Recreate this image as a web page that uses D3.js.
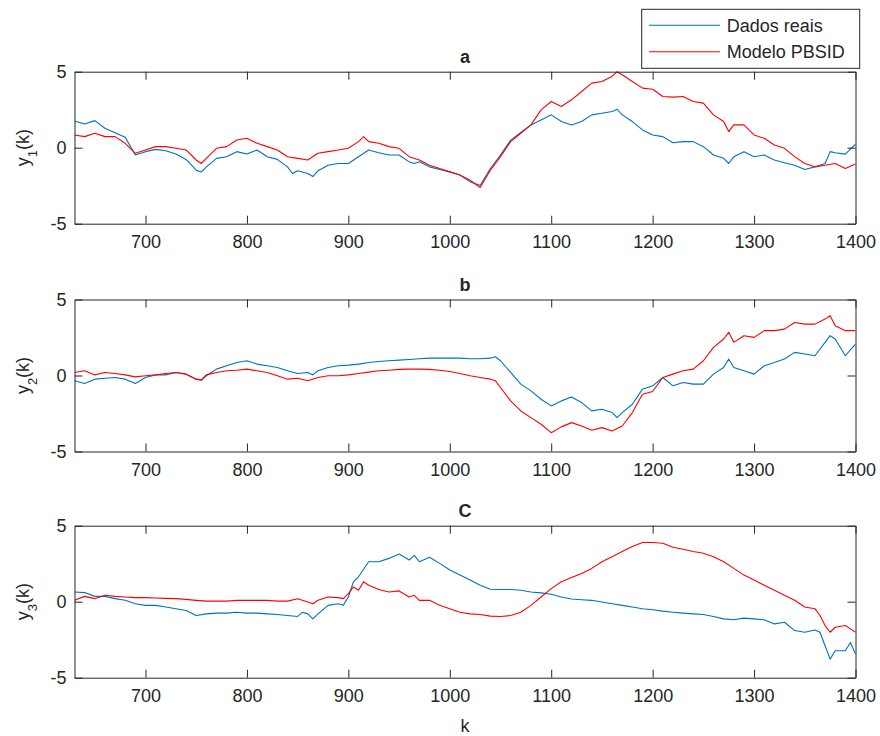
<!DOCTYPE html>
<html><head><meta charset="utf-8">
<script src="https://cdn.jsdelivr.net/npm/d3@7"></script>
<style>body{margin:0;background:#fff}svg{display:block}text{font-family:"Liberation Sans",Arial,Helvetica,sans-serif;fill:#262626}</style>
</head><body><svg id="c" width="880" height="736"></svg>
<script>
const panelTitles = ["a", "b", "C"];
const yLabelSubs = ["1", "2", "3"];
const seriesNames = ["Dados reais", "Modelo PBSID"];
const xTicks = [700, 800, 900, 1000, 1100, 1200, 1300, 1400];
const yTicks = [-5, 0, 5];

const y1Real = [[630,1.76],[640,1.56],[650,1.78],[660,1.28],[670,0.99],[680,0.68],[690,-0.48],[700,-0.26],[710,-0.11],[720,-0.2],[730,-0.42],[740,-0.77],[750,-1.48],[755,-1.6],[760,-1.26],[770,-0.7],[780,-0.6],[790,-0.26],[800,-0.42],[810,-0.15],[820,-0.6],[830,-0.77],[840,-1.26],[845,-1.7],[850,-1.52],[860,-1.7],[865,-1.9],[870,-1.52],[880,-1.15],[890,-1.04],[900,-1.04],[910,-0.6],[920,-0.15],[930,-0.33],[940,-0.48],[950,-0.48],[960,-0.93],[965,-1.04],[970,-0.93],[980,-1.26],[990,-1.43],[1000,-1.59],[1010,-1.8],[1020,-2.25],[1030,-2.47],[1040,-1.37],[1050,-0.48],[1060,0.5],[1070,1.0],[1080,1.5],[1090,1.83],[1100,2.16],[1110,1.72],[1120,1.5],[1130,1.72],[1140,2.16],[1150,2.27],[1160,2.38],[1165,2.53],[1170,2.16],[1180,1.72],[1190,1.17],[1200,0.84],[1210,0.73],[1220,0.33],[1230,0.4],[1240,0.4],[1250,0.07],[1260,-0.48],[1270,-0.7],[1275,-1.04],[1280,-0.6],[1290,-0.26],[1300,-0.6],[1310,-0.48],[1320,-0.81],[1330,-0.99],[1340,-1.15],[1350,-1.43],[1360,-1.26],[1370,-1.04],[1375,-0.26],[1380,-0.33],[1390,-0.42],[1400,0.24]];
const y1Model = [[630,0.84],[640,0.73],[650,0.95],[660,0.73],[670,0.73],[680,0.29],[690,-0.37],[700,-0.15],[710,0.07],[720,0.07],[730,-0.04],[740,-0.15],[750,-0.81],[755,-1.04],[760,-0.7],[770,-0.04],[780,0.07],[790,0.51],[800,0.62],[810,0.29],[820,0.07],[830,-0.15],[840,-0.59],[850,-0.7],[860,-0.81],[870,-0.37],[880,-0.26],[890,-0.15],[900,-0.04],[910,0.4],[915,0.73],[920,0.4],[930,0.29],[940,0.07],[950,-0.04],[960,-0.59],[970,-0.81],[980,-1.15],[990,-1.37],[1000,-1.59],[1010,-1.8],[1020,-2.14],[1030,-2.62],[1040,-1.48],[1050,-0.59],[1060,0.4],[1070,0.95],[1080,1.5],[1090,2.49],[1100,3.04],[1110,2.71],[1120,3.15],[1130,3.7],[1140,4.25],[1150,4.36],[1160,4.69],[1165,5.0],[1170,4.8],[1180,4.36],[1190,3.92],[1200,3.85],[1210,3.37],[1220,3.33],[1230,3.37],[1240,3.04],[1250,2.93],[1260,2.16],[1270,1.72],[1275,1.06],[1280,1.5],[1290,1.5],[1300,0.84],[1310,0.62],[1320,0.18],[1330,-0.04],[1340,-0.59],[1350,-1.04],[1360,-1.26],[1370,-1.15],[1380,-1.04],[1390,-1.37],[1400,-1.08]];

const y2Real = [[630,-0.35],[640,-0.53],[650,-0.24],[660,-0.18],[670,-0.13],[680,-0.24],[690,-0.53],[700,-0.13],[710,0.04],[720,0.04],[730,0.2],[740,0.09],[750,-0.24],[755,-0.31],[760,-0.02],[770,0.42],[780,0.64],[790,0.86],[800,0.97],[810,0.75],[820,0.64],[830,0.53],[840,0.31],[850,0.13],[860,0.2],[865,0.04],[870,0.31],[880,0.53],[890,0.64],[900,0.68],[910,0.75],[920,0.86],[930,0.92],[940,0.97],[950,1.01],[960,1.05],[970,1.1],[980,1.14],[990,1.14],[1000,1.14],[1010,1.14],[1020,1.1],[1030,1.1],[1040,1.14],[1045,1.23],[1050,0.97],[1060,0.2],[1070,-0.57],[1080,-1.01],[1090,-1.56],[1100,-2.0],[1110,-1.67],[1120,-1.41],[1130,-1.78],[1140,-2.33],[1150,-2.22],[1160,-2.44],[1165,-2.77],[1170,-2.44],[1180,-1.89],[1190,-0.9],[1200,-0.68],[1210,-0.13],[1220,-0.68],[1230,-0.46],[1240,-0.57],[1250,-0.57],[1260,0.09],[1270,0.53],[1275,1.08],[1280,0.53],[1290,0.31],[1300,0.09],[1310,0.64],[1320,0.86],[1330,1.08],[1340,1.52],[1350,1.41],[1360,1.3],[1370,2.18],[1375,2.62],[1380,2.4],[1390,1.3],[1400,2.07]];
const y2Model = [[630,0.2],[640,0.31],[650,0.04],[660,0.2],[670,0.13],[680,0.04],[690,-0.09],[700,-0.02],[710,0.04],[720,0.13],[730,0.2],[740,0.09],[750,-0.24],[755,-0.29],[760,0.04],[770,0.2],[780,0.31],[790,0.35],[800,0.42],[810,0.31],[820,0.2],[830,-0.02],[840,-0.24],[850,-0.18],[860,-0.35],[870,-0.13],[880,-0.02],[890,-0.02],[900,0.04],[910,0.13],[920,0.22],[930,0.31],[940,0.35],[950,0.4],[960,0.42],[970,0.42],[980,0.4],[990,0.35],[1000,0.26],[1010,0.13],[1020,-0.02],[1030,-0.13],[1040,-0.24],[1045,-0.35],[1050,-0.79],[1060,-1.67],[1070,-2.33],[1080,-2.77],[1090,-3.21],[1100,-3.76],[1110,-3.38],[1120,-3.1],[1130,-3.32],[1140,-3.6],[1150,-3.43],[1160,-3.65],[1170,-3.32],[1180,-2.44],[1190,-1.23],[1200,-1.05],[1210,-0.13],[1220,0.09],[1230,0.31],[1240,0.42],[1250,0.97],[1260,1.85],[1270,2.4],[1275,2.84],[1280,2.18],[1290,2.62],[1300,2.51],[1310,2.95],[1320,2.95],[1330,3.05],[1340,3.49],[1350,3.38],[1360,3.38],[1370,3.71],[1375,3.93],[1380,3.27],[1390,2.95],[1400,2.95]];

const y3Real = [[630,0.64],[640,0.6],[650,0.35],[660,0.35],[670,0.2],[680,0.09],[690,-0.13],[700,-0.24],[710,-0.24],[720,-0.35],[730,-0.46],[740,-0.58],[750,-0.91],[760,-0.8],[770,-0.75],[780,-0.75],[790,-0.69],[800,-0.75],[810,-0.75],[820,-0.8],[830,-0.84],[840,-0.91],[850,-0.97],[855,-0.69],[860,-0.8],[865,-1.13],[870,-0.8],[880,-0.24],[890,-0.13],[895,-0.24],[900,0.31],[905,1.31],[910,1.64],[920,2.63],[930,2.63],[940,2.85],[950,3.14],[960,2.74],[965,3.05],[970,2.63],[980,2.92],[990,2.52],[1000,2.08],[1010,1.75],[1020,1.42],[1030,1.08],[1040,0.82],[1050,0.8],[1060,0.8],[1070,0.75],[1080,0.64],[1090,0.58],[1100,0.49],[1110,0.31],[1120,0.18],[1130,0.13],[1140,0.09],[1150,-0.02],[1160,-0.13],[1170,-0.24],[1180,-0.35],[1190,-0.46],[1200,-0.53],[1210,-0.62],[1220,-0.69],[1230,-0.75],[1240,-0.8],[1250,-0.84],[1260,-0.97],[1270,-1.13],[1280,-1.19],[1290,-1.08],[1300,-1.13],[1310,-1.19],[1320,-1.46],[1330,-1.35],[1340,-1.9],[1350,-2.01],[1360,-1.86],[1365,-2.01],[1370,-2.9],[1375,-3.78],[1380,-3.23],[1390,-3.23],[1395,-2.68],[1400,-3.45]];
const y3Model = [[630,0.09],[640,0.35],[650,0.2],[660,0.42],[670,0.35],[680,0.31],[690,0.27],[700,0.27],[710,0.24],[720,0.22],[730,0.2],[740,0.15],[750,0.09],[760,0.04],[770,0.04],[780,0.04],[790,0.09],[800,0.09],[810,0.09],[820,0.09],[830,0.04],[840,0.04],[850,0.2],[860,-0.02],[865,-0.13],[870,0.09],[880,0.31],[890,0.27],[895,0.2],[900,0.53],[905,0.97],[910,0.75],[915,1.31],[920,1.08],[930,0.8],[940,0.64],[950,0.71],[960,0.31],[965,0.42],[970,0.09],[980,0.09],[990,-0.24],[1000,-0.46],[1010,-0.69],[1020,-0.8],[1030,-0.84],[1040,-0.95],[1050,-0.97],[1060,-0.91],[1070,-0.69],[1080,-0.24],[1090,0.31],[1100,0.86],[1110,1.31],[1120,1.59],[1130,1.86],[1140,2.19],[1150,2.63],[1160,2.96],[1170,3.3],[1180,3.63],[1190,3.89],[1200,3.89],[1210,3.85],[1220,3.58],[1230,3.45],[1240,3.3],[1250,3.19],[1260,2.96],[1270,2.63],[1280,2.19],[1290,1.75],[1300,1.42],[1310,1.08],[1320,0.75],[1330,0.42],[1340,0.09],[1350,-0.35],[1360,-0.46],[1365,-0.91],[1370,-1.57],[1375,-2.01],[1380,-1.68],[1390,-1.57],[1395,-1.79],[1400,-2.01]];

const panels = [[y1Real, y1Model], [y2Real, y2Model], [y3Real, y3Model]];
const colors = ["#0072BD", "#FF0000"];

const svg = d3.select("#c");
const left = 74.5, right = 855.5;
const tops = [71.7, 299.5, 525.7];
const ph = 152;
const axisCol = "#262626";
const x = d3.scaleLinear().domain([630, 1400]).range([left, right]);

panels.forEach((series, i) => {
  const top = tops[i];
  const y = d3.scaleLinear().domain([-5, 5]).range([top + ph, top]);
  const g = svg.append("g");
  g.append("rect").attr("x", left).attr("y", top).attr("width", right - left).attr("height", ph).attr("fill", "#fff");
  const clipId = "clip" + i;
  svg.append("clipPath").attr("id", clipId).append("rect").attr("x", left).attr("y", top - 1).attr("width", right - left).attr("height", ph + 2);
  const line = d3.line().x(d => x(d[0])).y(d => y(d[1]));
  series.forEach((s, j) => {
    g.append("path").datum(s).attr("d", line).attr("fill", "none")
      .attr("stroke", colors[j]).attr("stroke-width", 1.1).attr("stroke-linejoin", "round")
      .attr("clip-path", `url(#${clipId})`);
  });
  const tl = 8;
  const fmt = d => String(d);
  const bottom = g.append("g").attr("transform", `translate(0,${top + ph})`)
    .call(d3.axisBottom(x).tickValues(xTicks).tickSizeInner(-tl).tickSizeOuter(0).tickPadding(12).tickFormat(fmt));
  const topAx = g.append("g").attr("transform", `translate(0,${top})`)
    .call(d3.axisTop(x).tickValues(xTicks).tickSizeInner(-tl).tickSizeOuter(0).tickFormat(""));
  const leftAx = g.append("g").attr("transform", `translate(${left},0)`)
    .call(d3.axisLeft(y).tickValues(yTicks).tickSizeInner(-tl).tickSizeOuter(0).tickPadding(8).tickFormat(fmt));
  const rightAx = g.append("g").attr("transform", `translate(${right},0)`)
    .call(d3.axisRight(y).tickValues(yTicks).tickSizeInner(-tl).tickSizeOuter(0).tickFormat(""));
  [bottom, topAx, leftAx, rightAx].forEach(a => {
    a.selectAll("path.domain").attr("stroke", axisCol).attr("stroke-width", 1);
    a.selectAll("line").attr("stroke", axisCol).attr("stroke-width", 1);
    a.selectAll("text").style("font-size", "18px").attr("fill", axisCol).style("font-family", '"Liberation Sans",Arial,sans-serif');
  });
  bottom.selectAll("text").attr("dy", "0.71em");
  g.append("text").attr("x", (left + right) / 2).attr("y", top - 9).attr("text-anchor", "middle")
    .style("font-size", "18px").style("font-weight", "bold").attr("fill", "#000").text(panelTitles[i]);
  const yl = g.append("text").attr("transform", `translate(29,${top + ph / 2}) rotate(-90)`)
    .attr("text-anchor", "middle").style("font-size", "18px").attr("fill", axisCol);
  yl.append("tspan").text("y");
  yl.append("tspan").attr("baseline-shift", "sub").style("font-size", "13px").text(yLabelSubs[i]);
  yl.append("tspan").text("(k)");
});

svg.append("text").attr("x", (left + right) / 2).attr("y", 732).attr("text-anchor", "middle")
  .style("font-size", "18px").attr("fill", axisCol).text("k");

const lg = svg.append("g");
lg.append("rect").attr("x", 641.7).attr("y", 9.3).attr("width", 218).attr("height", 59).attr("fill", "#fff").attr("stroke", axisCol).attr("stroke-width", 1);
seriesNames.forEach((n, j) => {
  const yy = j === 0 ? 25.3 : 51.7;
  lg.append("line").attr("x1", 649).attr("x2", 720).attr("y1", yy).attr("y2", yy).attr("stroke", colors[j]).attr("stroke-width", 1.1);
  lg.append("text").attr("x", 726.7).attr("y", yy).attr("dy", "0.35em").style("font-size", "18px").attr("fill", "#000").text(n);
});
</script></body></html>
